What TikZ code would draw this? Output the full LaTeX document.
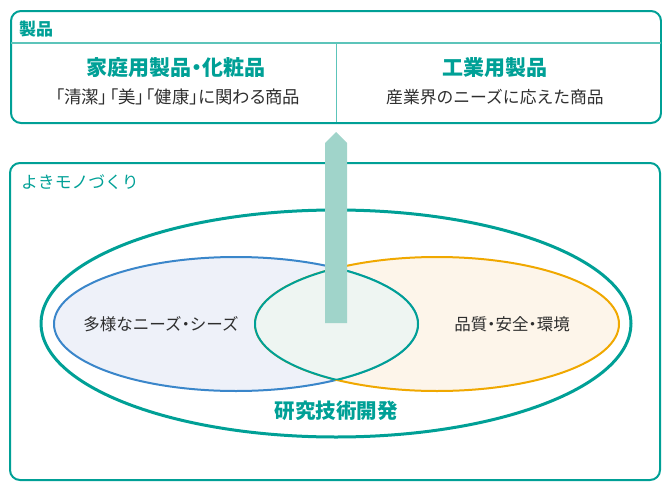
\documentclass[tikz,border=0pt]{standalone}
\usepackage{fontspec}
\setmainfont{Noto Sans CJK JP}
\newfontfamily\paltfont[RawFeature=+palt]{Noto Sans CJK JP}
\definecolor{tealc}{HTML}{00A096}
\definecolor{teall}{HTML}{5CC4BA}
\definecolor{bluec}{HTML}{3A86CA}
\definecolor{bluefill}{HTML}{EEF1F9}
\definecolor{orangec}{HTML}{F0A800}
\definecolor{orangefill}{HTML}{FDF5EA}
\definecolor{lensfill}{HTML}{EEF5F2}
\definecolor{arrowfill}{HTML}{A0D4CA}
\definecolor{textc}{HTML}{2E2E2E}
\begin{document}
\begin{tikzpicture}[x=1pt,y=-1pt,line join=round,
  boxline/.style={draw=tealc,line width=2pt,rounded corners=10pt},
  sepline/.style={draw=teall,line width=1.3pt},
  titletext/.style={inner sep=0pt,text=tealc,font=\fontsize{21}{24}\selectfont\bfseries},
  subtext/.style={inner sep=0pt,text=textc,font=\fontsize{16.8}{19}\selectfont},
  labeltext/.style={inner sep=0pt,text=tealc,font=\fontsize{16.8}{19}\selectfont,anchor=west},
  venntext/.style={inner sep=0pt,text=textc,font=\fontsize{16.5}{19}\selectfont}]
\useasboundingbox (0,0) rectangle (662,482);
% top box
\draw[boxline] (11,11) rectangle (661,123);
\draw[sepline] (11,43) -- (661,43);
\draw[sepline,line width=1pt] (336,43) -- (336,122);
\node[labeltext,font=\fontsize{17}{19}\selectfont\bfseries] (seihin) at (19,29) {製品};
\node[titletext] (katei) at (176,68) {家庭用製品\hspace{-0.25em}・\hspace{-0.25em}化粧品};
\node[subtext,font=\fontsize{17.4}{19}\paltfont] (kateisub) at (178,97) {「清潔」\hspace{0.1em}「美」\hspace{0.1em}「健康」に関わる商品};
\node[titletext] (kogyo) at (495,68) {工業用製品};
\node[subtext] (kogyosub) at (495,97) {産業界のニーズに応えた商品};
% bottom box
\draw[boxline] (10,163) rectangle (660,480);
\node[labeltext] (yoki) at (21,182) {よきモノづくり};
% big ellipse
\draw[draw=tealc,line width=3pt] (336,323.5) ellipse [x radius=295pt,y radius=113.5pt];
% venn
\fill[bluefill] (236,324) ellipse [x radius=182pt,y radius=67pt];
\fill[orangefill] (437,324) ellipse [x radius=182pt,y radius=67pt];
\draw[bluec,line width=2pt] (236,324) ellipse [x radius=182pt,y radius=67pt];
\draw[orangec,line width=2pt] (437,324) ellipse [x radius=182pt,y radius=67pt];
\begin{scope}
  \clip (236,324) ellipse [x radius=182pt,y radius=67pt];
  \fill[lensfill] (437,324) ellipse [x radius=182pt,y radius=67pt];
  \draw[tealc,line width=2pt] (437,324) ellipse [x radius=182pt,y radius=67pt];
\end{scope}
\begin{scope}
  \clip (437,324) ellipse [x radius=182pt,y radius=67pt];
  \draw[tealc,line width=2pt] (236,324) ellipse [x radius=182pt,y radius=67pt];
\end{scope}
\node[venntext] (needs) at (161,324) {多様なニーズ\hspace{-0.25em}・\hspace{-0.25em}シーズ};
\node[venntext] (quality) at (512,324) {品質\hspace{-0.25em}・\hspace{-0.25em}安全\hspace{-0.25em}・\hspace{-0.25em}環境};
\node[titletext,font=\fontsize{20.5}{24}\selectfont\bfseries] (kenkyu) at (336,411) {研究技術開発};
% arrow
\fill[arrowfill] (325,323) -- (325,143) -- (336,132) -- (347,143) -- (347,323) -- cycle;
\end{tikzpicture}
\end{document}
